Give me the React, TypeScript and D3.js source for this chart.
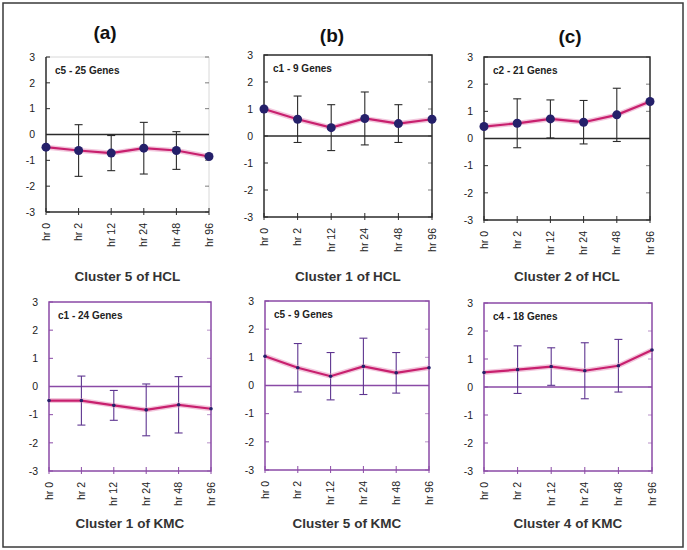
import React from "react";
import * as d3 from "d3";

const CATEGORIES = ["hr 0", "hr 2", "hr 12", "hr 24", "hr 48", "hr 96"];
const Y_TICKS = [3, 2, 1, 0, -1, -2, -3];

const HCL5_MEAN = [-0.49, -0.62, -0.72, -0.53, -0.62, -0.85];
const HCL5_SD = [null, 1.0, 0.68, 1.0, 0.73, null];
const HCL1_MEAN = [1.0, 0.62, 0.31, 0.65, 0.46, 0.62];
const HCL1_SD = [null, 0.86, 0.85, 0.98, 0.7, null];
const HCL2_MEAN = [0.44, 0.56, 0.72, 0.6, 0.87, 1.36];
const HCL2_SD = [null, 0.9, 0.7, 0.8, 0.98, null];
const KMC1_MEAN = [-0.5, -0.5, -0.67, -0.83, -0.65, -0.79];
const KMC1_SD = [null, 0.87, 0.53, 0.92, 1.0, null];
const KMC5_MEAN = [1.04, 0.63, 0.33, 0.68, 0.45, 0.63];
const KMC5_SD = [null, 0.86, 0.84, 1.0, 0.72, null];
const KMC4_MEAN = [0.52, 0.62, 0.73, 0.58, 0.76, 1.32];
const KMC4_SD = [null, 0.85, 0.67, 1.0, 0.94, null];

const PANEL_LABELS = ["(a)", "(b)", "(c)"];

type Panel = {
  mean: number[];
  sd: (number | null)[];
  label: string;
  title: string;
  kmc: boolean;
  x0: number; x1: number; y0: number; y1: number;
  fullBox: boolean;
};

const PANELS: Panel[] = [
  { mean: HCL5_MEAN, sd: HCL5_SD, label: "c5 - 25 Genes", title: "Cluster 5 of HCL", kmc: false, x0: 46, x1: 209, y0: 57, y1: 212, fullBox: false },
  { mean: HCL1_MEAN, sd: HCL1_SD, label: "c1 - 9 Genes", title: "Cluster 1 of HCL", kmc: false, x0: 264, x1: 432, y0: 55, y1: 217, fullBox: true },
  { mean: HCL2_MEAN, sd: HCL2_SD, label: "c2 - 21 Genes", title: "Cluster 2 of HCL", kmc: false, x0: 484, x1: 650, y0: 57, y1: 220, fullBox: true },
  { mean: KMC1_MEAN, sd: KMC1_SD, label: "c1 - 24 Genes", title: "Cluster 1 of KMC", kmc: true, x0: 49, x1: 211, y0: 302, y1: 471, fullBox: true },
  { mean: KMC5_MEAN, sd: KMC5_SD, label: "c5 - 9 Genes", title: "Cluster 5 of KMC", kmc: true, x0: 265, x1: 429, y0: 301, y1: 470, fullBox: true },
  { mean: KMC4_MEAN, sd: KMC4_SD, label: "c4 - 18 Genes", title: "Cluster 4 of KMC", kmc: true, x0: 484, x1: 652, y0: 303, y1: 471, fullBox: true },
];

const LABEL_POS = [
  { x: 105, y: 39 },
  { x: 332, y: 42 },
  { x: 570, y: 43 },
];

const FONT = "'Liberation Sans', Arial, Helvetica, sans-serif";

function PanelView({ p }: { p: Panel }) {
  const x = d3.scalePoint<string>().domain(CATEGORIES).range([p.x0, p.x1]).padding(0);
  const y = d3.scaleLinear().domain([-3, 3]).range([p.y1, p.y0]);
  const axisColor = p.kmc ? "#8a4aa6" : "#2b2b2b";
  const errColor = p.kmc ? "#5e3590" : "#2b2b2b";
  const pts = p.mean.map((m, i) => [x(CATEGORIES[i]) as number, y(m)] as [number, number]);
  const line = d3.line()(pts) || "";
  const midX = (p.x0 + p.x1) / 2;
  return (
    <g>
      {/* box */}
      {p.fullBox ? (
        <rect x={p.x0} y={p.y0} width={p.x1 - p.x0} height={p.y1 - p.y0} fill="none" stroke={axisColor} strokeWidth={1.5} />
      ) : (
        <g>
          <line x1={p.x0} x2={p.x1} y1={p.y0} y2={p.y0} stroke="#d8d8d8" strokeWidth={1} />
          <line x1={p.x1} x2={p.x1} y1={p.y0} y2={p.y1} stroke="#d8d8d8" strokeWidth={1} />
          <line x1={p.x0} x2={p.x0} y1={p.y0} y2={p.y1} stroke={axisColor} strokeWidth={1.5} />
          <line x1={p.x0} x2={p.x1} y1={p.y1} y2={p.y1} stroke={axisColor} strokeWidth={1.5} />
        </g>
      )}
      {/* zero line */}
      <line x1={p.x0} x2={p.x1} y1={y(0)} y2={y(0)} stroke={axisColor} strokeWidth={1.3} />
      {/* y ticks */}
      {Y_TICKS.map((t) => (
        <g key={t}>
          <line x1={p.x0} x2={p.x0 + 4} y1={y(t)} y2={y(t)} stroke={axisColor} strokeWidth={1} />
          <line x1={p.x1} x2={p.x1 - 4} y1={y(t)} y2={y(t)} stroke={axisColor} strokeWidth={1} opacity={0.6} />
          <text x={p.x0 - 11} y={y(t)} dy="0.35em" textAnchor="end" fontSize={10.5} fill="#222" fontFamily={FONT}>
            {t}
          </text>
        </g>
      ))}
      {/* x ticks */}
      {CATEGORIES.map((c) => (
        <g key={c}>
          <line x1={x(c)} x2={x(c)} y1={p.y1 - 4} y2={p.y1 + 3} stroke={axisColor} strokeWidth={1} />
          <text
            transform={`translate(${x(c)},${p.y1 + 11}) rotate(-90)`}
            dy="0.35em"
            textAnchor="end"
            fontSize={10.5}
            fill="#222"
            fontFamily={FONT}
          >
            {c}
          </text>
        </g>
      ))}
      {/* error bars */}
      {p.sd.map((s, i) => {
        if (s == null) return null;
        const cx = x(CATEGORIES[i]) as number;
        const yt = y(p.mean[i] + s);
        const yb = y(p.mean[i] - s);
        return (
          <g key={i} stroke={errColor} strokeWidth={1.1}>
            <line x1={cx} x2={cx} y1={yt} y2={yb} />
            <line x1={cx - 4} x2={cx + 4} y1={yt} y2={yt} />
            <line x1={cx - 4} x2={cx + 4} y1={yb} y2={yb} />
          </g>
        );
      })}
      {/* line with glow */}
      <path d={line} fill="none" stroke="#e9a0c4" strokeWidth={5} opacity={0.6} />
      <path d={line} fill="none" stroke="#c8206e" strokeWidth={2.2} />
      {pts.map((pt, i) => (
        <circle key={i} cx={pt[0]} cy={pt[1]} r={p.kmc ? 1.8 : 4.5} fill="#25206a" />
      ))}
      <text x={p.x0 + 9} y={p.y0 + 13} dy="0.35em" fontSize={10} fontWeight="bold" fill="#222" fontFamily={FONT}>
        {p.label}
      </text>
      <text x={midX} y={p.kmc ? 523 : 276} dy="0.35em" textAnchor="middle" fontSize={13.5} fontWeight="bold" fill="#333" fontFamily={FONT}>
        {p.title}
      </text>
    </g>
  );
}

export default function App() {
  return (
    <svg
      width={687}
      height={550}
      style={{ position: "absolute", left: 0, top: 0, background: "#fff" }}
    >
      <rect x={0} y={0} width={687} height={550} fill="#fff" />
      <rect x={3} y={3} width={680} height={544} fill="none" stroke="#3a3a3a" strokeWidth={1.5} />
      {PANEL_LABELS.map((l, i) => (
        <text key={l} x={LABEL_POS[i].x} y={LABEL_POS[i].y} textAnchor="middle" fontSize={19} fontWeight="bold" fill="#111" fontFamily={FONT}>
          {l}
        </text>
      ))}
      {PANELS.map((p, i) => (
        <PanelView key={i} p={p} />
      ))}
    </svg>
  );
}
